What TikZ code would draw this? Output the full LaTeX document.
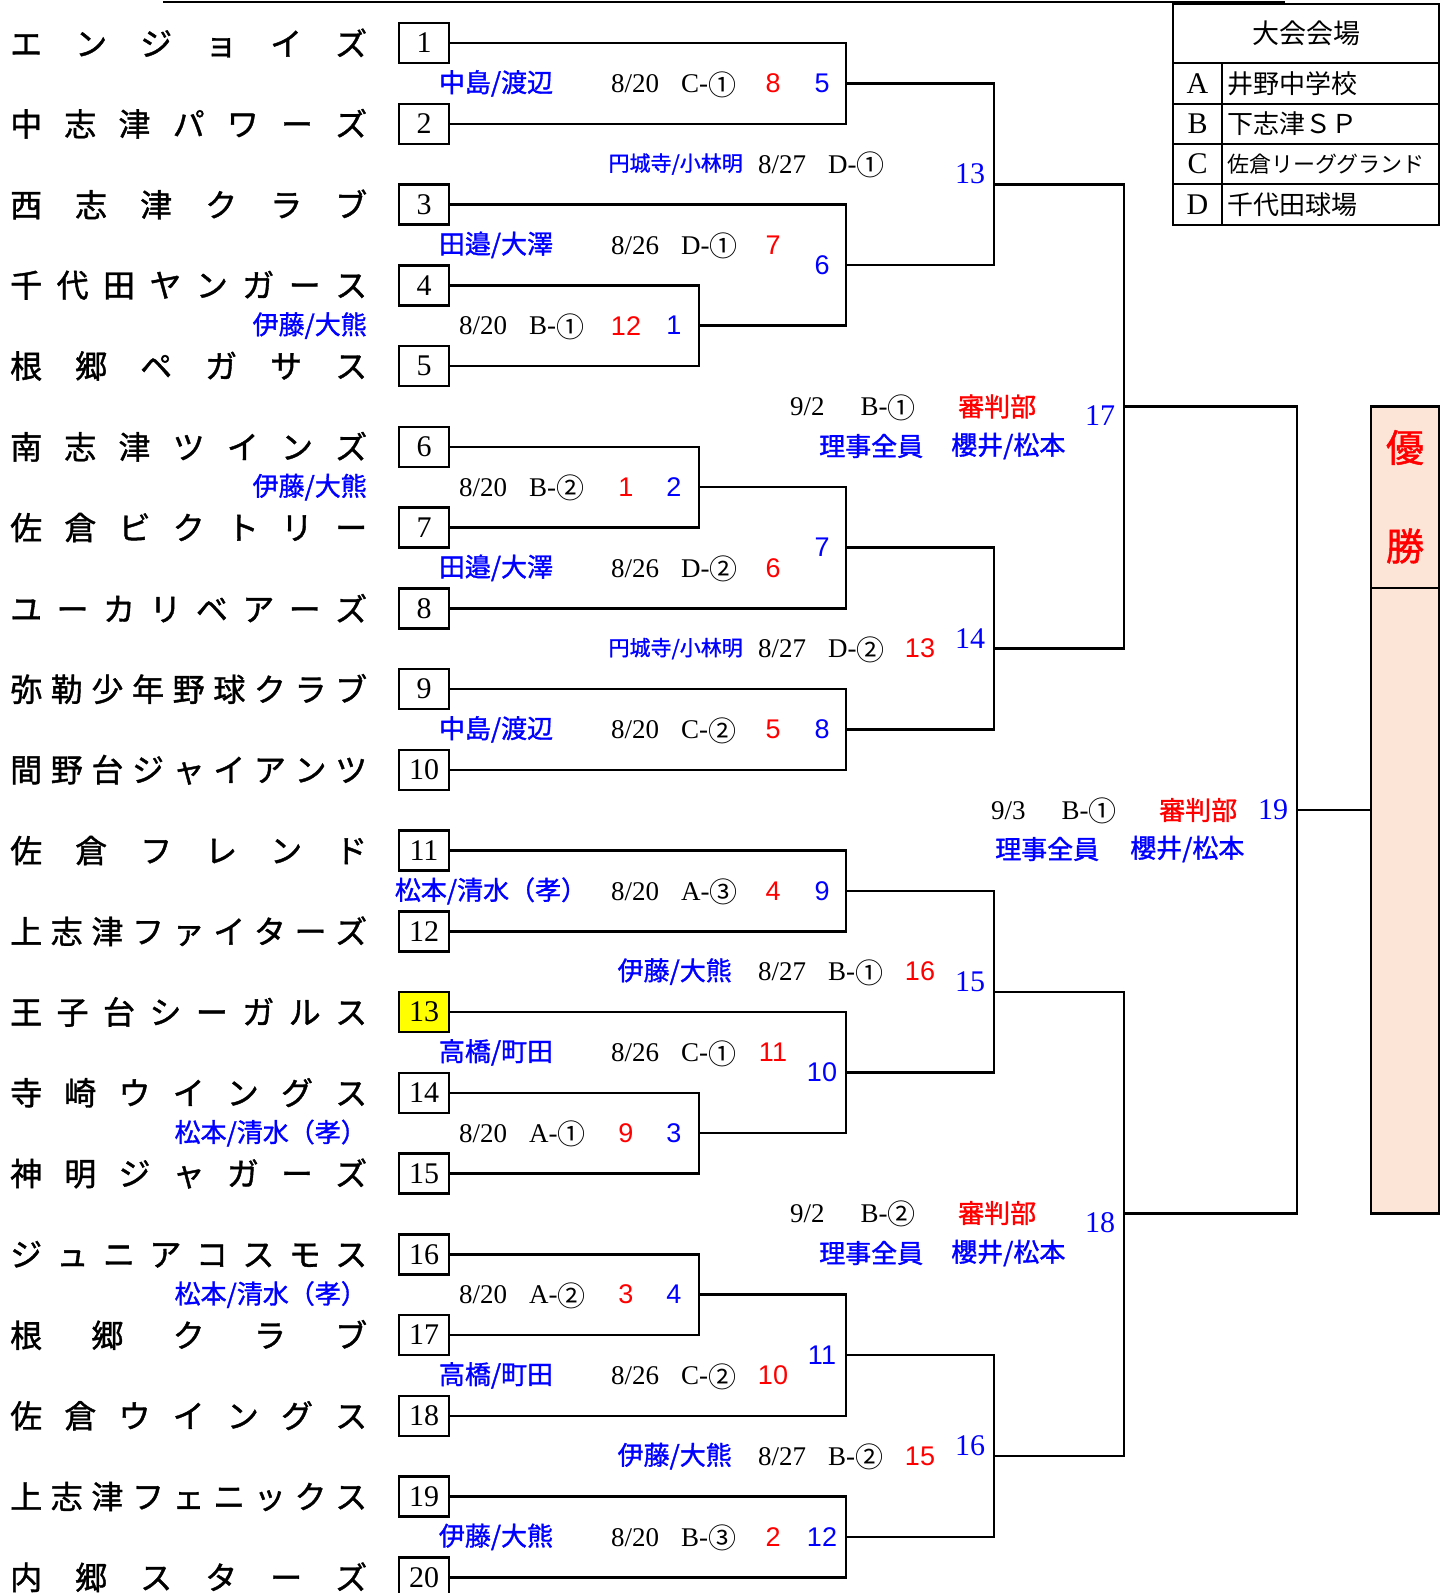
\documentclass[tikz,border=0pt]{standalone}
\usepackage{fontspec}
\setmainfont{Liberation Serif}
\setsansfont{Liberation Sans}
\newfontfamily\cjk{Noto Sans CJK JP}
\newfontfamily\cjkheavy[FakeBold=1.2]{Noto Sans CJK JP}

\definecolor{ChampFill}{HTML}{FCE4D6}
\definecolor{SeedFill}{HTML}{FFFF00}
\colorlet{RefBlue}{blue}
\colorlet{ScoreRed}{red}

\newlength\namewd
\setlength\namewd{357pt}
\def\spreadgo#1#2{#1\ifx#2\relax\else\hfill\expandafter\spreadgo\expandafter#2\fi}
\newcommand\spreadname[1]{\makebox[\namewd][l]{\spreadgo#1\relax}}
\newcommand\circnum[1]{\raisebox{-2.5pt}{\cjk\fontsize{28}{28}\selectfont #1}}
\newcommand\matchinfo[4][22pt]{#2\hspace{#1}#3-\circnum{#4}}

\tikzset{
    numbox/.style={draw, line width=2.5pt, minimum width=50pt, minimum height=40pt,
        inner sep=0pt, font=\fontsize{30}{30}\selectfont},
    seedbox/.style={numbox, fill=SeedFill},
    teamname/.style={anchor=west, inner sep=0pt, font=\cjkheavy\fontsize{32}{32}\selectfont},
    bracket/.style={line width=2.5pt},
    refname/.style={text=RefBlue, inner sep=0pt, font=\cjkheavy\fontsize{26}{26}\selectfont},
    refsmall/.style={refname, font=\cjkheavy\fontsize{21}{21}\selectfont},
    judge/.style={text=ScoreRed, anchor=west, inner sep=0pt, font=\cjkheavy\fontsize{26}{26}\selectfont},
    datetxt/.style={anchor=west, inner sep=0pt, text height=18.5pt, text depth=0pt,
        font=\fontsize{27}{27}\selectfont},
    score/.style={text=ScoreRed, inner sep=0pt, font=\sffamily\fontsize{27}{27}\selectfont},
    winno/.style={text=RefBlue, inner sep=0pt, font=\sffamily\fontsize{27}{27}\selectfont},
    roundno/.style={text=RefBlue, inner sep=0pt, font=\fontsize{30}{30}\selectfont},
    tbl/.style={line width=2.5pt},
    lghead/.style={inner sep=0pt, font=\cjk\fontsize{27}{27}\selectfont},
    lgkey/.style={inner sep=0pt, font=\fontsize{30}{30}\selectfont},
    lgname/.style={anchor=west, inner sep=0pt, font=\cjk\fontsize{26}{26}\selectfont},
    champtxt/.style={text=ScoreRed, inner sep=0pt, font=\cjkheavy\fontsize{38}{38}\selectfont},
}

\begin{document}
\begin{tikzpicture}[x=1pt, y=-1pt]

    \useasboundingbox (0,0) rectangle (1447,1593);

    % cut-off title rule
    \draw[line width=2pt] (163,1.5) -- (1285,1.5);

    % teams
    \node[teamname] (t1) at (10,43) {\spreadname{エンジョイズ}};
    \node[teamname] (t2) at (10,123.75) {\spreadname{中志津パワーズ}};
    \node[teamname] (t3) at (10,204.5) {\spreadname{西志津クラブ}};
    \node[teamname] (t4) at (10,285.25) {\spreadname{千代田ヤンガース}};
    \node[teamname] (t5) at (10,366) {\spreadname{根郷ペガサス}};
    \node[teamname] (t6) at (10,446.75) {\spreadname{南志津ツインズ}};
    \node[teamname] (t7) at (10,527.5) {\spreadname{佐倉ビクトリー}};
    \node[teamname] (t8) at (10,608.25) {\spreadname{ユーカリベアーズ}};
    \node[teamname] (t9) at (10,689) {\spreadname{弥勒少年野球クラブ}};
    \node[teamname] (t10) at (10,769.75) {\spreadname{間野台ジャイアンツ}};
    \node[teamname] (t11) at (10,850.5) {\spreadname{佐倉フレンド}};
    \node[teamname] (t12) at (10,931.25) {\spreadname{上志津ファイターズ}};
    \node[teamname] (t13) at (10,1012) {\spreadname{王子台シーガルス}};
    \node[teamname] (t14) at (10,1092.75) {\spreadname{寺崎ウイングス}};
    \node[teamname] (t15) at (10,1173.5) {\spreadname{神明ジャガーズ}};
    \node[teamname] (t16) at (10,1254.25) {\spreadname{ジュニアコスモス}};
    \node[teamname] (t17) at (10,1335) {\spreadname{根郷クラブ}};
    \node[teamname] (t18) at (10,1415.75) {\spreadname{佐倉ウイングス}};
    \node[teamname] (t19) at (10,1496.5) {\spreadname{上志津フェニックス}};
    \node[teamname] (t20) at (10,1577.25) {\spreadname{内郷スターズ}};

    \node[numbox] (b1) at (424,43) {1};
    \node[numbox] (b2) at (424,123.75) {2};
    \node[numbox] (b3) at (424,204.5) {3};
    \node[numbox] (b4) at (424,285.25) {4};
    \node[numbox] (b5) at (424,366) {5};
    \node[numbox] (b6) at (424,446.75) {6};
    \node[numbox] (b7) at (424,527.5) {7};
    \node[numbox] (b8) at (424,608.25) {8};
    \node[numbox] (b9) at (424,689) {9};
    \node[numbox] (b10) at (424,769.75) {10};
    \node[numbox] (b11) at (424,850.5) {11};
    \node[numbox] (b12) at (424,931.25) {12};
    \node[seedbox] (b13) at (424,1012) {13};
    \node[numbox] (b14) at (424,1092.75) {14};
    \node[numbox] (b15) at (424,1173.5) {15};
    \node[numbox] (b16) at (424,1254.25) {16};
    \node[numbox] (b17) at (424,1335) {17};
    \node[numbox] (b18) at (424,1415.75) {18};
    \node[numbox] (b19) at (424,1496.5) {19};
    \node[numbox] (b20) at (424,1577.25) {20};

    % winners' joints
    \coordinate (w1) at (699,325.6);
    \coordinate (w2) at (699,487.1);
    \coordinate (w3) at (699,1133.1);
    \coordinate (w4) at (699,1294.6);
    \coordinate (w5) at (846,83.4);
    \coordinate (w6) at (846,265.1);
    \coordinate (w7) at (846,547.7);
    \coordinate (w8) at (846,729.4);
    \coordinate (w9) at (846,890.9);
    \coordinate (w10) at (846,1072.6);
    \coordinate (w11) at (846,1355.2);
    \coordinate (w12) at (846,1536.9);
    \coordinate (w13) at (994,184.3);
    \coordinate (w14) at (994,648.7);
    \coordinate (w15) at (994,991.9);
    \coordinate (w16) at (994,1456.2);
    \coordinate (w17) at (1124,406.5);
    \coordinate (w18) at (1124,1213.5);
    \coordinate (w19) at (1297,810);

    \node[draw, line width=2.5pt, fill=ChampFill, minimum width=68pt, minimum height=807pt,
        inner sep=0pt] (champ) at (1405,810) {};
    \draw[tbl] (1371,588) -- (1439,588);
    \node[champtxt] (yu) at (1405,447.5) {優};
    \node[champtxt] (sho) at (1405,546) {勝};

    % brackets
    \draw[bracket] (b1.east) -| (w5) |- (b2.east);
    \draw[bracket] (b4.east) -| (w1) |- (b5.east);
    \draw[bracket] (b3.east) -| (w6) |- (w1);
    \draw[bracket] (b6.east) -| (w2) |- (b7.east);
    \draw[bracket] (w2) -| (w7) |- (b8.east);
    \draw[bracket] (b9.east) -| (w8) |- (b10.east);
    \draw[bracket] (b11.east) -| (w9) |- (b12.east);
    \draw[bracket] (b14.east) -| (w3) |- (b15.east);
    \draw[bracket] (b13.east) -| (w10) |- (w3);
    \draw[bracket] (b16.east) -| (w4) |- (b17.east);
    \draw[bracket] (w4) -| (w11) |- (b18.east);
    \draw[bracket] (b19.east) -| (w12) |- (b20.east);
    \draw[bracket] (w5) -| (w13) |- (w6);
    \draw[bracket] (w7) -| (w14) |- (w8);
    \draw[bracket] (w9) -| (w15) |- (w10);
    \draw[bracket] (w11) -| (w16) |- (w12);
    \draw[bracket] (w13) -| (w17) |- (w14);
    \draw[bracket] (w15) -| (w18) |- (w16);
    \draw[bracket] (w17) -| (w19) |- (w18);
    \draw[bracket] (w19) -- (champ.west);

    % first round
    \node[refname, anchor=east] (r1) at (367,325.6) {伊藤/大熊};
    \node[datetxt] (d1) at (459,325.6) {\matchinfo{8/20}{B}{①}};
    \node[score] (s1) at (626,325.6) {12};
    \node[winno] (n1) at (674,325.6) {1};
    \node[refname, anchor=east] (r2) at (367,487.1) {伊藤/大熊};
    \node[datetxt] (d2) at (459,487.1) {\matchinfo{8/20}{B}{②}};
    \node[score] (s2) at (626,487.1) {1};
    \node[winno] (n2) at (674,487.1) {2};
    \node[refname, anchor=east] (r3) at (367,1133.1) {松本/清水（孝）};
    \node[datetxt] (d3) at (459,1133.1) {\matchinfo{8/20}{A}{①}};
    \node[score] (s3) at (626,1133.1) {9};
    \node[winno] (n3) at (674,1133.1) {3};
    \node[refname, anchor=east] (r4) at (367,1294.6) {松本/清水（孝）};
    \node[datetxt] (d4) at (459,1294.6) {\matchinfo{8/20}{A}{②}};
    \node[score] (s4) at (626,1294.6) {3};
    \node[winno] (n4) at (674,1294.6) {4};

    % second round
    \node[refname] (r5) at (496,83.4) {中島/渡辺};
    \node[datetxt] (d5) at (611,83.4) {\matchinfo{8/20}{C}{①}};
    \node[score] (s5) at (773,83.4) {8};
    \node[winno] (n5) at (822,83.4) {5};
    \node[refname] (r6) at (496,244.9) {田邉/大澤};
    \node[datetxt] (d6) at (611,244.9) {\matchinfo{8/26}{D}{①}};
    \node[score] (s6) at (773,244.9) {7};
    \node[winno] (n6) at (822,265.1) {6};
    \node[refname] (r7) at (496,567.9) {田邉/大澤};
    \node[datetxt] (d7) at (611,567.9) {\matchinfo{8/26}{D}{②}};
    \node[score] (s7) at (773,567.9) {6};
    \node[winno] (n7) at (822,547.7) {7};
    \node[refname] (r8) at (496,729.4) {中島/渡辺};
    \node[datetxt] (d8) at (611,729.4) {\matchinfo{8/20}{C}{②}};
    \node[score] (s8) at (773,729.4) {5};
    \node[winno] (n8) at (822,729.4) {8};
    \node[refname] (r9) at (491,890.9) {松本/清水（孝）};
    \node[datetxt] (d9) at (611,890.9) {\matchinfo{8/20}{A}{③}};
    \node[score] (s9) at (773,890.9) {4};
    \node[winno] (n9) at (822,890.9) {9};
    \node[refname] (r10) at (496,1052.4) {高橋/町田};
    \node[datetxt] (d10) at (611,1052.4) {\matchinfo{8/26}{C}{①}};
    \node[score] (s10) at (773,1052.4) {11};
    \node[winno] (n10) at (822,1072.6) {10};
    \node[refname] (r11) at (496,1375.4) {高橋/町田};
    \node[datetxt] (d11) at (611,1375.4) {\matchinfo{8/26}{C}{②}};
    \node[score] (s11) at (773,1375.4) {10};
    \node[winno] (n11) at (822,1355.2) {11};
    \node[refname] (r12) at (496,1536.9) {伊藤/大熊};
    \node[datetxt] (d12) at (611,1536.9) {\matchinfo{8/20}{B}{③}};
    \node[score] (s12) at (773,1536.9) {2};
    \node[winno] (n12) at (822,1536.9) {12};

    % quarter finals
    \node[refsmall, anchor=east] (r13) at (743,164.1) {円城寺/小林明};
    \node[datetxt] (d13) at (758,164.1) {\matchinfo{8/27}{D}{①}};
    \node[roundno] (n13) at (970,174.2) {13};
    \node[refsmall, anchor=east] (r14) at (743,648.6) {円城寺/小林明};
    \node[datetxt] (d14) at (758,648.6) {\matchinfo{8/27}{D}{②}};
    \node[score] (s14) at (920,648.6) {13};
    \node[roundno] (n14) at (970,638.5) {14};
    \node[refname, anchor=east] (r15) at (732,971.6) {伊藤/大熊};
    \node[datetxt] (d15) at (758,971.6) {\matchinfo{8/27}{B}{①}};
    \node[score] (s15) at (920,971.6) {16};
    \node[roundno] (n15) at (970,981.7) {15};
    \node[refname, anchor=east] (r16) at (732,1456.1) {伊藤/大熊};
    \node[datetxt] (d16) at (758,1456.1) {\matchinfo{8/27}{B}{②}};
    \node[score] (s16) at (920,1456.1) {15};
    \node[roundno] (n16) at (970,1446) {16};

    % semi finals and final
    \node[datetxt] (d17) at (790,406.4) {\matchinfo[36pt]{9/2}{B}{①}};
    \node[judge] (j17) at (958,406.4) {審判部};
    \node[refname, anchor=west] (r17a) at (819,446) {理事全員};
    \node[refname, anchor=west] (r17b) at (951,446) {櫻井/松本};
    \node[roundno] (n17) at (1100,416) {17};
    \node[datetxt] (d18) at (790,1213) {\matchinfo[36pt]{9/2}{B}{②}};
    \node[judge] (j18) at (958,1213) {審判部};
    \node[refname, anchor=west] (r18a) at (819,1253) {理事全員};
    \node[refname, anchor=west] (r18b) at (951,1253) {櫻井/松本};
    \node[roundno] (n18) at (1100,1223) {18};
    \node[datetxt] (d19) at (991,810) {\matchinfo[36pt]{9/3}{B}{①}};
    \node[judge] (j19) at (1159,810) {審判部};
    \node[roundno] (n19) at (1273,810) {19};
    \node[refname, anchor=west] (r19a) at (995,849) {理事全員};
    \node[refname, anchor=west] (r19b) at (1130,849) {櫻井/松本};

    % venue table
    \draw[tbl] (1173,4) rectangle (1439,225);
    \draw[tbl] (1173,63) -- (1439,63);
    \draw[tbl] (1173,104) -- (1439,104);
    \draw[tbl] (1173,144) -- (1439,144);
    \draw[tbl] (1173,184) -- (1439,184);
    \draw[tbl] (1222,63) -- (1222,225);
    \node[lghead] (lg) at (1306,33.5) {大会会場};
    \node[lgkey] (kA) at (1197.5,83.5) {A};
    \node[lgkey] (kB) at (1197.5,124) {B};
    \node[lgkey] (kC) at (1197.5,164) {C};
    \node[lgkey] (kD) at (1197.5,204.5) {D};
    \node[lgname] (vA) at (1227,83.5) {井野中学校};
    \node[lgname] (vB) at (1227,124) {下志津ＳＰ};
    \node[lgname, font=\cjk\fontsize{22}{22}\selectfont] (vC) at (1227,164) {佐倉リーググランド};
    \node[lgname] (vD) at (1227,204.5) {千代田球場};

\end{tikzpicture}
\end{document}
